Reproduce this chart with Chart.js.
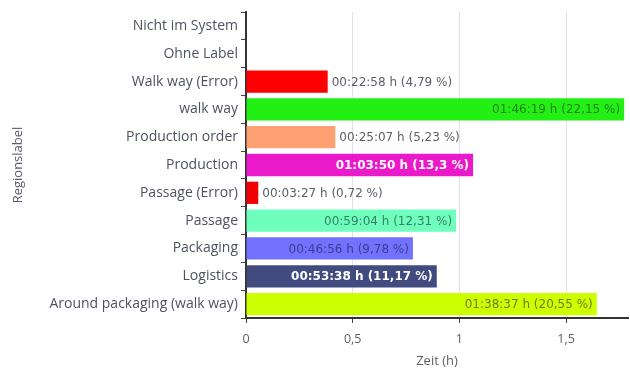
<!DOCTYPE html>
<html>
<head>
<meta charset="utf-8">
<script src="https://cdn.jsdelivr.net/npm/chart.js@4"></script>
<style>
  html, body { margin: 0; padding: 0; background: #fff; }
  #c { display: block; }
</style>
</head>
<body>
<canvas id="c" width="630" height="370"></canvas>
<script>
// Time spent per region label (hours), with the formatted duration and share.
const regions = [
  'Nicht im System', 'Ohne Label', 'Walk way (Error)', 'walk way',
  'Production order', 'Production', 'Passage (Error)', 'Passage',
  'Packaging', 'Logistics', 'Around packaging (walk way)'
];
const durations = [
  '', '', '00:22:58', '01:46:19', '00:25:07', '01:03:50',
  '00:03:27', '00:59:04', '00:46:56', '00:53:38', '01:38:37'
];
const shares = [
  '', '', '4,79', '22,15', '5,23', '13,3',
  '0,72', '12,31', '9,78', '11,17', '20,55'
];
const xTicks = [0, 0.5, 1, 1.5];

// hh:mm:ss -> hours
function toHours(s) {
  if (!s) return 0;
  const [h, m, sec] = s.split(':').map(Number);
  return h + m / 60 + sec / 3600;
}
const hours = durations.map(toHours);

const barColors = [
  '#cccccc', '#cccccc', '#ff0000', '#22f015', '#ffa073', '#ea1acb',
  '#f00000', '#6effbd', '#7272ff', '#414b80', '#ccff00'
];
const insideText = [
  '#444', '#444', '#fff', '#2a7f1e', '#7a4a30', '#ffffff',
  '#fff', '#3a7f62', '#3c3c8e', '#ffffff', '#6b7f10'
];

const valueLabels = {
  id: 'valueLabels',
  afterDatasetsDraw(chart) {
    const ctx = chart.ctx;
    const meta = chart.getDatasetMeta(0);
    ctx.save();
    ctx.textBaseline = 'middle';
    meta.data.forEach((bar, i) => {
      if (!durations[i]) return;
      const text = durations[i] + ' h (' + shares[i] + ' %)';
      const white = insideText[i].toLowerCase().startsWith('#fff');
      ctx.font = (white ? '600 ' : '') + '12px "DejaVu Sans", sans-serif';
      const w = ctx.measureText(text).width;
      const barW = bar.x - bar.base;
      if (w + 8 < barW) {
        ctx.fillStyle = insideText[i];
        ctx.textAlign = 'right';
        ctx.fillText(text, bar.x - 4, bar.y + 1);
      } else {
        ctx.font = '12px "DejaVu Sans", sans-serif';
        ctx.fillStyle = '#5a5e68';
        ctx.textAlign = 'left';
        ctx.fillText(text, bar.x + 4, bar.y + 1);
      }
    });
    ctx.restore();
  }
};

new Chart(document.getElementById('c'), {
  type: 'bar',
  data: {
    labels: regions,
    datasets: [{
      data: hours,
      backgroundColor: barColors,
      borderWidth: 0,
      categoryPercentage: 1,
      barPercentage: 0.8
    }]
  },
  options: {
    indexAxis: 'y',
    responsive: false,
    animation: false,
    devicePixelRatio: 1,
    layout: { padding: { top: 12, right: 2, left: 0, bottom: 0 } },
    plugins: { legend: { display: false }, tooltip: { enabled: false } },
    scales: {
      x: {
        min: 0,
        max: 1.79,
        afterFit(s) { s.height = 52; },
        afterBuildTicks(s) { s.ticks = xTicks.map(v => ({ value: v })); },
        ticks: {
          color: '#5a5e68',
          font: { family: 'Open Sans', size: 12.5 },
          padding: 9,
          maxRotation: 0,
          autoSkip: false,
          callback: v => String(v).replace('.', ',')
        },
        grid: { color: '#e2e2e2', tickColor: '#444', tickLength: 5, lineWidth: 1 },
        border: { display: true, color: '#333', width: 2 },
        title: {
          display: true, text: 'Zeit (h)', color: '#5a5e68',
          font: { family: 'Open Sans', size: 13 },
          padding: { top: 0, bottom: 1 }
        }
      },
      y: {
        afterFit(s) { s.width = 246; },
        ticks: {
          color: '#4e5260',
          font: { family: 'Open Sans', size: 14 },
          padding: 3,
          autoSkip: false
        },
        grid: { drawOnChartArea: false, tickColor: '#444', tickLength: 5 },
        border: { display: true, color: '#333', width: 2 },
        title: {
          display: true, text: 'Regionslabel', color: '#5a5e68',
          font: { family: 'Open Sans', size: 13 },
          padding: { top: 10, bottom: 0 }
        }
      }
    }
  },
  plugins: [valueLabels]
});
</script>
</body>
</html>
